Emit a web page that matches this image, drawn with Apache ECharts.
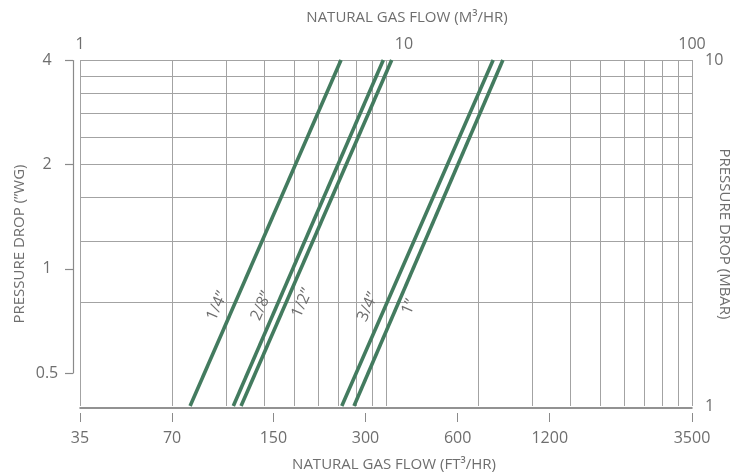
<!DOCTYPE html>
<html>
<head>
<meta charset="utf-8">
<script src="https://cdn.jsdelivr.net/npm/echarts@6/dist/echarts.min.js"></script>
<style>
  html, body { margin: 0; padding: 0; background: #ffffff; }
  #chart { width: 736px; height: 474px; }
</style>
</head>
<body>
<div id="chart"></div>
<script>
// Pipe sizes; each line runs from 1 mbar to 10 mbar pressure drop.
const pipeSizes = ['1/4”', '2/8”', '1/2”', '3/4”', '1”'];
const dropEnds = [1, 10];                       // mbar
const flowAtLowDrop = [2.29, 3.17, 3.36, 7.17, 7.86];   // m³/h at 1 mbar
const flowAtHighDrop = [7.13, 9.80, 10.44, 22.4, 24.1]; // m³/h at 10 mbar

// Axis ticks
const metricFlowLabels = [1, 10, 100];
const metricFlowGrid = [1, 2, 3, 4, 5, 6, 7, 8, 9, 10, 20, 30, 40, 50, 60, 70, 80, 90, 100];
const imperialFlowTicks = [35, 70, 150, 300, 600, 1200, 3500];
const inchWgTicks = [0.5, 1, 2, 4];
const mbarLabels = [1, 10];
const mbarGrid = [2, 3, 4, 5, 6, 7, 8, 9, 10];

// Unit conversions (flow scale rounded to the 35 … 3500 ft³/h printed range)
const FT3_PER_M3 = 35;
const MBAR_PER_INWG = 2.49089;

const FONT = "'Open Sans', 'DejaVu Sans', sans-serif";
const TEXT = '#6e6e6e';
const GRIDLINE = '#a3a3a3';
const PIPE = '#437b5f';

// Plot box
const plot = { left: 80, top: 60, width: 612, height: 346 };
const mbarMin = 1, mbarMax = 10;
const yFor = (mbar) => plot.top + plot.height * Math.log10(mbarMax / mbar) / Math.log10(mbarMax / mbarMin);
const wgTop = yFor(4 * MBAR_PER_INWG);
const wgBottom = yFor(0.5 * MBAR_PER_INWG);

// Caption placement: screen-space shift from each line's lower end,
// turned into the label's own rotated frame.
const CAPTION_ANGLE = 66;
const captionShift = [[27, -100], [28, -100], [61, -103], [26, -99], [55, -99]];
const toLabelFrame = ([dx, dy]) => {
  const a = CAPTION_ANGLE * Math.PI / 180;
  return [dx * Math.cos(a) - dy * Math.sin(a), dx * Math.sin(a) + dy * Math.cos(a)];
};

const chart = echarts.init(document.getElementById('chart'), null, { renderer: 'canvas' });

const tickLabel = { color: TEXT, fontSize: 16, fontFamily: FONT };

chart.setOption({
  animation: false,
  backgroundColor: '#ffffff',
  grid: [
    { left: plot.left, top: plot.top, width: plot.width, height: plot.height, containLabel: false },
    { left: 73, top: wgTop, width: 1, height: wgBottom - wgTop, containLabel: false }
  ],
  xAxis: [
    { // metric flow, top
      gridIndex: 0, type: 'log', logBase: 10, min: 1, max: 100, position: 'top',
      axisLine: { show: false },
      axisTick: { show: false, customValues: metricFlowGrid },
      axisLabel: {
        ...tickLabel, margin: 8, customValues: metricFlowLabels,
        formatter: (v) => v === 10 ? '{shift|10}' : String(v),
        rich: { shift: { ...tickLabel, padding: [0, 0, 0, 36] } }
      },
      splitLine: { show: true, lineStyle: { color: GRIDLINE, width: 1 } }
    },
    { // imperial flow, bottom axis line
      gridIndex: 0, type: 'log', logBase: 10, min: FT3_PER_M3, max: 100 * FT3_PER_M3,
      position: 'bottom', offset: 2,
      axisLine: { show: true, lineStyle: { color: '#6f6f6f', width: 1.5 } },
      axisTick: { show: false }, axisLabel: { show: false }, splitLine: { show: false }
    },
    { // imperial flow, ticks and labels
      gridIndex: 0, type: 'log', logBase: 10, min: FT3_PER_M3, max: 100 * FT3_PER_M3,
      position: 'bottom', offset: 7,
      axisLine: { show: false },
      axisTick: { show: true, length: 9, customValues: imperialFlowTicks, lineStyle: { color: '#8a8a8a', width: 1 } },
      axisLabel: { ...tickLabel, margin: 17, customValues: imperialFlowTicks, formatter: (v) => String(v) },
      splitLine: { show: false }
    },
    { gridIndex: 1, type: 'value', show: false, min: 0, max: 1 }
  ],
  yAxis: [
    { // mbar, right
      gridIndex: 0, type: 'log', logBase: 10, min: mbarMin, max: mbarMax, position: 'right',
      axisLine: { show: false },
      axisTick: { show: false, customValues: mbarGrid },
      axisLabel: { ...tickLabel, margin: 13, customValues: mbarLabels, formatter: (v) => String(v) },
      splitLine: { show: true, lineStyle: { color: GRIDLINE, width: 1 } }
    },
    { // inches water gauge, left
      gridIndex: 1, type: 'log', logBase: 2, min: 0.5, max: 4, position: 'left',
      axisLine: { show: true, lineStyle: { color: '#8a8a8a', width: 1.2 } },
      axisTick: { show: true, length: 8, customValues: inchWgTicks, lineStyle: { color: '#8a8a8a', width: 1.2 } },
      axisLabel: { ...tickLabel, margin: 26, align: 'center', customValues: inchWgTicks, formatter: (v) => String(v) },
      splitLine: { show: false }
    }
  ],
  series: pipeSizes.map((name, i) => ({
    type: 'line',
    name: name,
    xAxisIndex: 0,
    yAxisIndex: 0,
    silent: true,
    symbol: 'circle',
    symbolSize: 0,
    showSymbol: true,
    lineStyle: { color: PIPE, width: 3.6 },
    itemStyle: { color: PIPE },
    label: { show: false },
    data: [
      {
        value: [flowAtLowDrop[i], dropEnds[0]],
        label: {
          show: true, position: 'inside', formatter: name, rotate: CAPTION_ANGLE,
          offset: toLabelFrame(captionShift[i]), color: TEXT, fontSize: 16, fontFamily: FONT,
          align: 'center', verticalAlign: 'middle'
        }
      },
      [flowAtHighDrop[i], dropEnds[1]]
    ]
  })),
  graphic: [
    { type: 'text', x: 407, y: 18, style: { text: 'NATURAL GAS FLOW (M³/HR)', fill: TEXT, font: '15px ' + FONT, align: 'center', verticalAlign: 'middle' } },
    { type: 'text', x: 394, y: 465, style: { text: 'NATURAL GAS FLOW (FT³/HR)', fill: TEXT, font: '15px ' + FONT, align: 'center', verticalAlign: 'middle' } },
    { type: 'text', x: 20, y: 244, rotation: Math.PI / 2, style: { text: 'PRESSURE DROP (”WG)', fill: TEXT, font: '15px ' + FONT, align: 'center', verticalAlign: 'middle' } },
    { type: 'text', x: 724, y: 234, rotation: -Math.PI / 2, style: { text: 'PRESSURE DROP (MBAR)', fill: TEXT, font: '15px ' + FONT, align: 'center', verticalAlign: 'middle' } }
  ]
});
</script>
</body>
</html>
